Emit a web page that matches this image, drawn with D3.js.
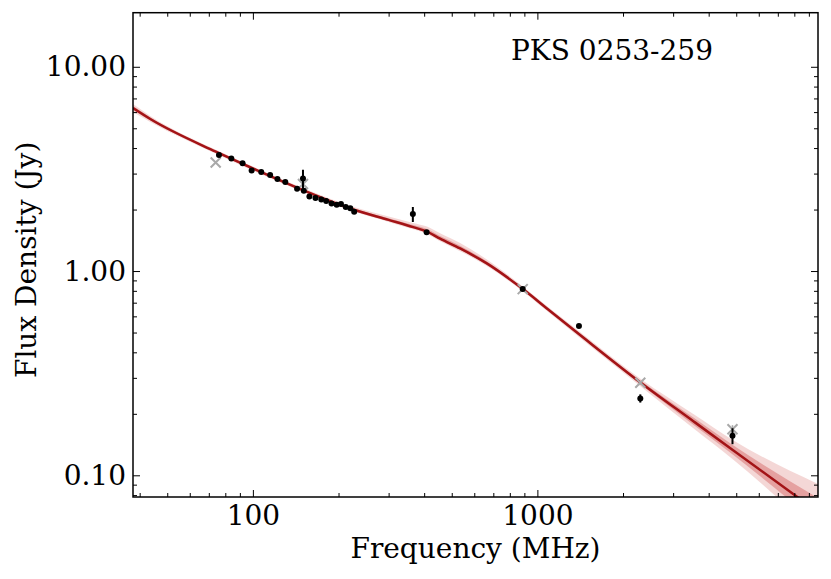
<!DOCTYPE html>
<html>
<head>
<meta charset="utf-8">
<script src="https://cdn.jsdelivr.net/npm/d3@7"></script>
<style>
  body { margin: 0; background: #fff; }
  text { font-family: "DejaVu Serif", serif; fill: #000; }
</style>
</head>
<body>
<svg id="chart" width="831" height="579"></svg>
<script>
// measured points (MHz, Jy)
const freqs = [76, 84, 92, 99, 107, 115, 122, 130, 143, 150, 151, 158, 166, 174, 181, 189, 197, 204, 212, 220, 227, 365, 408, 888, 1400, 2300, 4850];
const fluxes = [3.70, 3.56, 3.37, 3.11, 3.05, 2.95, 2.82, 2.73, 2.53, 2.84, 2.47, 2.32, 2.28, 2.24, 2.20, 2.14, 2.11, 2.13, 2.06, 2.03, 1.95, 1.90, 1.55, 0.816, 0.538, 0.238, 0.156];
const errors = [0.05, 0.05, 0.05, 0.05, 0.05, 0.04, 0.04, 0.04, 0.04, 0.29, 0.04, 0.04, 0.04, 0.04, 0.04, 0.04, 0.04, 0.04, 0.04, 0.04, 0.04, 0.16, 0.03, 0.02, 0.01, 0.011, 0.014];

// points not used in the fit (grey crosses)
const exFreqs = [74, 150, 888, 2300, 4850];
const exFluxes = [3.40, 2.67, 0.816, 0.284, 0.168];
const exErrors = [0.05, 0.05, 0.01, 0.005, 0.008];

// fitted model
const curveFreq = [37.9, 43.6, 74.1, 100, 150, 228, 300, 366, 409, 455, 535, 664, 889, 1108, 1413, 2308, 3533, 4860, 9690];
const curveFlux = [6.28, 5.55, 3.84, 3.18, 2.49, 1.99, 1.78, 1.64, 1.56, 1.44, 1.29, 1.09, 0.816, 0.637, 0.486, 0.284, 0.184, 0.133, 0.0661];
const bandHi = [6.57, 5.74, 3.92, 3.25, 2.55, 2.05, 1.85, 1.72, 1.65, 1.53, 1.37, 1.14, 0.839, 0.655, 0.503, 0.296, 0.1995, 0.149, 0.0907];
const bandLo = [6.00, 5.36, 3.75, 3.10, 2.44, 1.95, 1.74, 1.60, 1.52, 1.40, 1.25, 1.06, 0.794, 0.619, 0.470, 0.272, 0.170, 0.120, 0.0510];

const xMajor = [100, 1000];
const yMajor = [0.1, 1, 10];
const title = "PKS 0253-259";

const svg = d3.select("#chart");
const margin = { top: 12.7, left: 133, right: 13, bottom: 82 };
const W = 831, H = 579;
const fontSize = 28;

const x = d3.scaleLog().domain([37.9, 9690]).range([margin.left, W - margin.right]);
const y = d3.scaleLog().domain([0.0783, 18.4]).range([H - margin.bottom, margin.top]);

svg.append("defs").append("clipPath").attr("id", "clip")
    .append("rect")
    .attr("x", margin.left).attr("y", margin.top)
    .attr("width", W - margin.left - margin.right)
    .attr("height", H - margin.top - margin.bottom);

const plot = svg.append("g").attr("clip-path", "url(#clip)");

const curve = curveFreq.map((f, i) => ({ f, s: curveFlux[i], hi: bandHi[i], lo: bandLo[i] }));

// spread of the model samples
plot.append("path")
    .datum(curve)
    .attr("fill", "#dc7a78")
    .attr("fill-opacity", 0.3)
    .attr("d", d3.area().curve(d3.curveMonotoneX)
        .x(d => x(d.f)).y0(d => y(d.lo)).y1(d => y(d.hi)));

plot.append("path")
    .datum(curve)
    .attr("fill", "#c83c3c")
    .attr("fill-opacity", 0.35)
    .attr("d", d3.area().curve(d3.curveMonotoneX)
        .x(d => x(d.f))
        .y0(d => y(Math.sqrt(d.lo * d.s)))
        .y1(d => y(Math.sqrt(d.hi * d.s))));

plot.append("path")
    .datum(curve)
    .attr("fill", "none")
    .attr("stroke", "#a31316")
    .attr("stroke-width", 2.5)
    .attr("d", d3.line().curve(d3.curveMonotoneX).x(d => x(d.f)).y(d => y(d.s)));

// excluded points
const ex = exFreqs.map((f, i) => ({ f, s: exFluxes[i], e: exErrors[i] }));
plot.selectAll(".exerr").data(ex).enter().append("line")
    .attr("x1", d => x(d.f)).attr("x2", d => x(d.f))
    .attr("y1", d => y(d.s + d.e)).attr("y2", d => y(d.s - d.e))
    .attr("stroke", "#aaaaaa").attr("stroke-width", 1.5);
const xs = 5;
plot.selectAll(".ex").data(ex).enter().append("path")
    .attr("d", d => {
        const cx = x(d.f), cy = y(d.s);
        return `M${cx - xs},${cy - xs}L${cx + xs},${cy + xs}M${cx - xs},${cy + xs}L${cx + xs},${cy - xs}`;
    })
    .attr("stroke", "#a9a9a9").attr("stroke-width", 2).attr("fill", "none");

// measured points
const pts = freqs.map((f, i) => ({ f, s: fluxes[i], e: errors[i] }));
plot.selectAll(".err").data(pts).enter().append("line")
    .attr("x1", d => x(d.f)).attr("x2", d => x(d.f))
    .attr("y1", d => y(d.s + d.e)).attr("y2", d => y(d.s - d.e))
    .attr("stroke", "#000").attr("stroke-width", 2);
plot.selectAll(".pt").data(pts).enter().append("circle")
    .attr("cx", d => x(d.f)).attr("cy", d => y(d.s))
    .attr("r", 3).attr("fill", "#000");

// axes, ticks inward on every side
function minors(lo, hi) {
    const out = [];
    for (let p = Math.floor(Math.log10(lo)); p <= Math.ceil(Math.log10(hi)); p++) {
        for (let m = 2; m <= 9; m++) {
            const v = m * Math.pow(10, p);
            if (v > lo && v < hi) out.push(v);
        }
    }
    return out;
}
const xMinor = minors(x.domain()[0], x.domain()[1]);
const yMinor = minors(y.domain()[0], y.domain()[1]);
const bottomY = H - margin.bottom, rightX = W - margin.right;

const axisG = svg.append("g");
function xAxisAt(yPos, dir, labels) {
    const g = axisG.append("g").attr("transform", `translate(0,${yPos})`);
    const ax = (dir > 0 ? d3.axisBottom(x) : d3.axisTop(x));
    g.call(ax.tickValues(xMajor).tickSize(-7).tickPadding(labels ? 8 : 0)
        .tickFormat(labels ? d3.format("d") : ""));
    g.append("g").call((dir > 0 ? d3.axisBottom(x) : d3.axisTop(x))
        .tickValues(xMinor).tickSize(-4).tickFormat(""));
    return g;
}
function yAxisAt(xPos, dir, labels) {
    const g = axisG.append("g").attr("transform", `translate(${xPos},0)`);
    const ax = (dir < 0 ? d3.axisLeft(y) : d3.axisRight(y));
    g.call(ax.tickValues(yMajor).tickSize(-7).tickPadding(labels ? 7 : 0)
        .tickFormat(labels ? d3.format(".2f") : ""));
    g.append("g").call((dir < 0 ? d3.axisLeft(y) : d3.axisRight(y))
        .tickValues(yMinor).tickSize(-4).tickFormat(""));
    return g;
}
xAxisAt(bottomY, 1, true);
xAxisAt(margin.top, -1, false);
yAxisAt(margin.left, -1, true);
yAxisAt(rightX, 1, false);

axisG.selectAll(".domain").remove();
axisG.selectAll(".tick line").attr("stroke", "#000").attr("stroke-width", 1);
axisG.selectAll(".tick text").style("font-family", "DejaVu Serif").style("font-size", fontSize + "px");

svg.append("rect")
    .attr("x", margin.left).attr("y", margin.top)
    .attr("width", rightX - margin.left).attr("height", bottomY - margin.top)
    .attr("fill", "none").attr("stroke", "#000").attr("stroke-width", 1.5);

svg.append("text")
    .attr("x", (margin.left + rightX) / 2).attr("y", 558)
    .attr("text-anchor", "middle").style("font-size", fontSize + "px")
    .text("Frequency (MHz)");

svg.append("text")
    .attr("transform", `translate(36,${(margin.top + bottomY) / 2 + 5}) rotate(-90)`)
    .attr("text-anchor", "middle").style("font-size", fontSize + "px")
    .text("Flux Density (Jy)");

svg.append("text")
    .attr("x", 612).attr("y", 60)
    .attr("text-anchor", "middle").style("font-size", fontSize + "px")
    .text(title);
</script>
</body>
</html>
